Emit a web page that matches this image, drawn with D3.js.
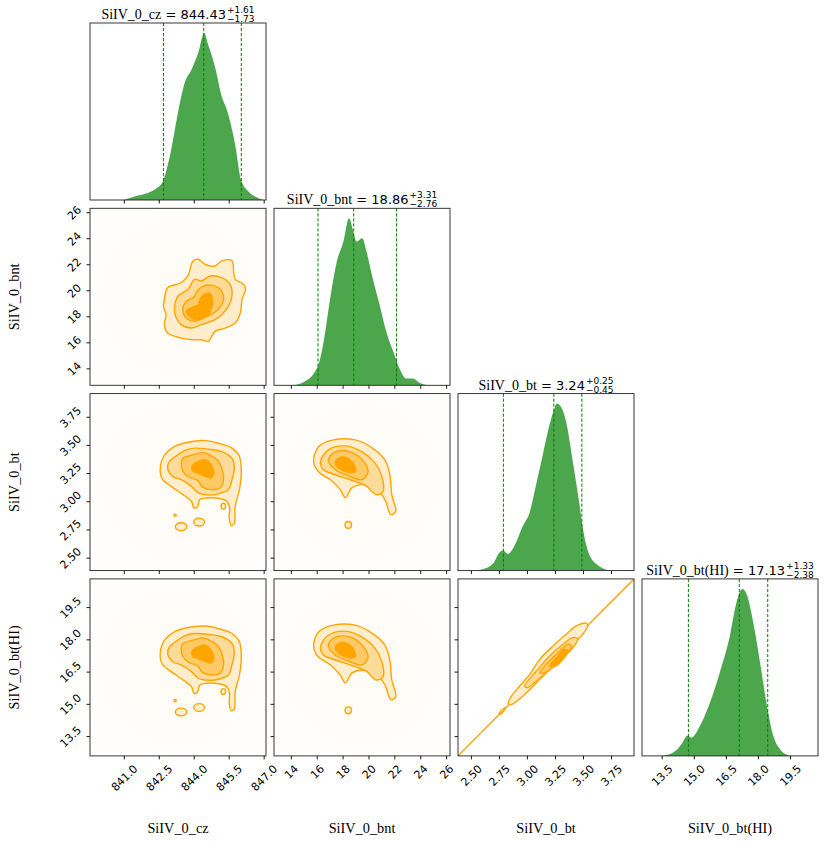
<!DOCTYPE html>
<html>
<head>
<meta charset="utf-8">
<script src="https://cdn.jsdelivr.net/npm/d3@7"></script>
<style>
  body { margin: 0; background: #fff; }
</style>
</head>
<body>
<svg id="chart" width="830" height="844"></svg>
<script>
'use strict';

// parameters and their summaries
const names = ["SiIV_0_cz", "SiIV_0_bnt", "SiIV_0_bt", "SiIV_0_bt(HI)"];
const medians = ["844.43", "18.86", "3.24", "17.13"];
const errPlus = ["+1.61", "+3.31", "+0.25", "+1.33"];
const errMinus = ["\u22121.73", "\u22122.76", "\u22120.45", "\u22122.38"];
const quantiles = [[842.70, 844.43, 846.04], [16.10, 18.86, 22.17], [2.79, 3.24, 3.49], [14.75, 17.13, 18.46]];
const domains = [[839.55, 847.1], [12.7, 26.3], [2.385, 3.955], [12.58, 20.81]];
const ticks = [[841.0, 842.5, 844.0, 845.5, 847.0], [14, 16, 18, 20, 22, 24, 26],
  [2.5, 2.75, 3.0, 3.25, 3.5, 3.75], [13.5, 15.0, 16.5, 18.0, 19.5]];
const tickFormats = [".1f", "d", ".2f", ".1f"];

// 1D marginal densities (peak = 1)
const czX = [841.0, 841.43, 842.0, 842.4, 842.67, 843.03, 843.32, 843.61, 843.90, 844.19, 844.45, 844.62, 844.91, 845.2, 845.42, 845.56, 845.78, 846.03, 846.36, 846.65, 847.0];
const czD = [0, 0.02, 0.04, 0.07, 0.11, 0.30, 0.52, 0.70, 0.78, 0.88, 1.0, 0.93, 0.80, 0.62, 0.54, 0.47, 0.33, 0.12, 0.05, 0.02, 0];
const bntX = [14.12, 15.0, 15.77, 16.2, 16.53, 17.04, 17.55, 18.06, 18.5, 18.83, 19.08, 19.51, 19.85, 20.36, 20.87, 21.38, 22.02, 22.4, 22.91, 23.42, 23.93, 24.7];
const bntD = [0, 0.02, 0.07, 0.14, 0.26, 0.52, 0.74, 0.86, 1.0, 0.92, 0.86, 0.88, 0.80, 0.63, 0.48, 0.32, 0.18, 0.10, 0.04, 0.04, 0.016, 0];
const btX = [2.506, 2.61, 2.70, 2.757, 2.787, 2.83, 2.89, 2.965, 3.025, 3.08, 3.14, 3.20, 3.245, 3.265, 3.305, 3.35, 3.41, 3.47, 3.505, 3.56, 3.65, 3.74];
const btD = [0, 0.01, 0.044, 0.11, 0.12, 0.10, 0.15, 0.27, 0.35, 0.51, 0.69, 0.87, 0.97, 1.0, 0.98, 0.89, 0.65, 0.39, 0.23, 0.09, 0.024, 0];
const hiX = [13.5, 14.04, 14.43, 14.7, 14.9, 15.29, 15.76, 16.22, 16.69, 17.0, 17.27, 17.47, 17.78, 18.1, 18.45, 18.72, 19.03, 19.5];
const hiD = [0, 0.02, 0.07, 0.12, 0.11, 0.18, 0.32, 0.50, 0.72, 0.92, 1.0, 0.97, 0.80, 0.56, 0.28, 0.12, 0.04, 0];

// 2D contours, outer (86%) to inner (12%), in data units
const czBnt1 = [[842.74,19.29],[842.88,20.20],[843.46,20.58],[843.75,21.10],[843.97,22.26],[844.19,22.39],[844.48,22.0],[844.91,21.87],[845.20,22.26],[845.64,22.26],[845.71,21.49],[845.78,20.84],[846.14,20.45],[846.22,20.07],[846.07,19.29],[846.0,18.26],[845.78,17.49],[845.35,17.10],[844.91,16.84],[844.62,16.07],[844.33,16.20],[843.97,16.20],[843.46,16.33],[842.88,16.71],[842.74,17.36],[842.81,18.13],[842.70,18.78]];
const czBnt2 = [[843.17,18.52],[843.32,19.55],[843.75,20.07],[844.04,20.84],[844.33,20.71],[844.70,21.10],[845.20,20.97],[845.56,20.45],[845.64,19.55],[845.49,18.78],[845.20,18.13],[844.91,17.74],[844.33,17.36],[843.90,17.10],[843.46,17.36],[843.25,17.87]];
const czBnt3 = [[843.55,18.80],[843.75,19.25],[844.0,19.45],[844.15,19.95],[844.40,20.30],[844.75,20.40],[845.05,20.20],[845.25,19.75],[845.28,19.20],[845.10,18.65],[844.85,18.25],[844.45,17.90],[844.05,17.62],[843.72,17.80],[843.55,18.25]];
const czBnt4 = [[843.68,18.39],[843.97,18.72],[844.19,18.91],[844.30,19.42],[844.48,19.73],[844.70,19.75],[844.80,19.29],[844.74,18.52],[844.55,18.0],[844.26,17.74],[843.90,17.87]];

const czBt1 = [[842.56,3.265],[842.71,3.397],[843.17,3.485],[843.75,3.524],[844.48,3.538],[845.06,3.515],[845.64,3.471],[845.96,3.397],[846.04,3.25],[845.96,3.103],[845.78,2.956],[845.74,2.803],[845.61,2.785],[845.52,2.853],[845.54,2.941],[845.42,3.0],[845.20,3.02],[844.91,3.029],[844.55,3.029],[844.26,3.015],[844.16,2.95],[844.01,2.941],[843.90,3.0],[843.54,3.059],[843.03,3.132],[842.67,3.191]];
const czBt2 = [[842.88,3.294],[842.96,3.353],[843.32,3.412],[843.61,3.45],[844.04,3.471],[844.62,3.462],[845.20,3.441],[845.64,3.382],[845.74,3.294],[845.64,3.191],[845.49,3.103],[845.20,3.074],[844.91,3.059],[844.48,3.059],[844.19,3.074],[843.90,3.132],[843.46,3.191],[843.10,3.221]];
const czBt3 = [[843.46,3.338],[843.54,3.382],[843.97,3.412],[844.41,3.432],[844.74,3.403],[845.03,3.362],[845.20,3.294],[845.28,3.191],[845.13,3.118],[844.77,3.103],[844.38,3.126],[844.16,3.185],[843.78,3.215],[843.54,3.265]];
const czBt4 = [[843.93,3.315],[844.16,3.35],[844.51,3.368],[844.72,3.332],[844.86,3.244],[844.74,3.209],[844.45,3.226],[844.16,3.25],[843.96,3.268]];
const czBtBlobs = [[845.27,2.956,0.10,0.026],[844.23,2.815,0.23,0.035],[843.46,2.774,0.25,0.035],[843.2,2.876,0.05,0.01]];

const czHi1 = [[842.56,17.19],[842.71,17.89],[843.17,18.35],[843.75,18.55],[844.48,18.62],[845.06,18.50],[845.64,18.27],[845.96,17.89],[846.04,17.11],[845.96,16.34],[845.78,15.57],[845.74,14.77],[845.61,14.68],[845.52,15.03],[845.54,15.49],[845.42,15.80],[845.20,15.91],[844.91,15.96],[844.55,15.96],[844.26,15.88],[844.16,15.54],[844.01,15.49],[843.90,15.80],[843.54,16.11],[843.03,16.50],[842.67,16.81]];
const czHi2 = [[842.88,17.35],[842.96,17.65],[843.32,17.96],[843.61,18.16],[844.04,18.27],[844.62,18.23],[845.20,18.12],[845.64,17.81],[845.74,17.35],[845.64,16.81],[845.49,16.34],[845.20,16.19],[844.91,16.11],[844.48,16.11],[844.19,16.19],[843.90,16.50],[843.46,16.81],[843.10,16.96]];
const czHi3 = [[843.46,17.58],[843.54,17.81],[843.97,17.96],[844.41,18.07],[844.74,17.92],[845.03,17.70],[845.20,17.35],[845.28,16.81],[845.13,16.42],[844.77,16.34],[844.38,16.46],[844.16,16.77],[843.78,16.93],[843.54,17.19]];
const czHi4 = [[843.93,17.46],[844.16,17.64],[844.51,17.73],[844.72,17.54],[844.86,17.08],[844.74,16.90],[844.45,16.99],[844.16,17.11],[843.96,17.21]];
const czHiBlobs = [[845.27,15.57,0.10,0.14],[844.23,14.83,0.23,0.18],[843.46,14.62,0.25,0.18],[843.2,15.15,0.05,0.05]];

const bntBt1 = [[15.76,3.35],[16.14,3.483],[17.29,3.544],[18.97,3.544],[20.27,3.474],[21.27,3.368],[21.65,3.235],[21.80,3.059],[22.11,2.909],[21.73,2.882],[21.27,3.015],[20.66,3.103],[19.74,3.147],[18.74,3.121],[18.21,3.032],[17.82,3.103],[17.06,3.191],[16.14,3.262]];
const bntBt2 = [[16.29,3.35],[16.9,3.456],[18.2,3.491],[19.51,3.438],[20.5,3.341],[21.04,3.218],[21.12,3.085],[20.58,3.059],[19.81,3.138],[18.59,3.191],[17.44,3.235],[16.52,3.279]];
const bntBt3 = [[16.9,3.368],[17.44,3.438],[18.59,3.438],[19.51,3.368],[19.97,3.262],[19.51,3.191],[18.44,3.226],[17.44,3.279]];
const bntBt4 = [[17.44,3.35],[17.98,3.394],[18.74,3.35],[18.97,3.262],[18.28,3.262],[17.67,3.297]];
const bntBtBlobs = [[18.44,2.79,0.25,0.03]];

const bntHi1 = [[15.76,17.64],[16.14,18.34],[17.29,18.66],[18.97,18.66],[20.27,18.29],[21.27,17.73],[21.65,17.04],[21.80,16.11],[22.11,15.33],[21.73,15.19],[21.27,15.88],[20.66,16.34],[19.74,16.57],[18.74,16.44],[18.21,15.97],[17.82,16.34],[17.06,16.81],[16.14,17.18]];
const bntHi2 = [[16.29,17.64],[16.9,18.19],[18.2,18.38],[19.51,18.10],[20.5,17.59],[21.04,16.95],[21.12,16.25],[20.58,16.11],[19.81,16.53],[18.59,16.81],[17.44,17.04],[16.52,17.27]];
const bntHi3 = [[16.9,17.73],[17.44,18.10],[18.59,18.10],[19.51,17.73],[19.97,17.18],[19.51,16.81],[18.44,16.99],[17.44,17.27]];
const bntHi4 = [[17.44,17.64],[17.98,17.87],[18.74,17.64],[18.97,17.18],[18.28,17.18],[17.67,17.36]];
const bntHiBlobs = [[18.44,14.70,0.25,0.16]];

const btHi1 = [[2.832,15.02],[2.862,15.36],[2.936,15.83],[3.025,16.37],[3.114,17.07],[3.232,17.69],[3.351,18.24],[3.44,18.63],[3.529,18.75],[3.543,18.63],[3.499,18.24],[3.41,17.77],[3.321,17.23],[3.218,16.68],[3.114,16.14],[2.996,15.52],[2.907,15.12],[2.862,14.97]];
const btHi2 = [[2.98,15.83],[3.085,16.53],[3.203,17.23],[3.321,17.77],[3.41,18.08],[3.454,18.0],[3.41,17.62],[3.321,17.15],[3.203,16.6],[3.085,16.06],[2.999,15.75]];
const btHi3 = [[3.114,16.45],[3.203,17.0],[3.292,17.46],[3.366,17.77],[3.396,17.69],[3.351,17.3],[3.262,16.84],[3.158,16.45]];
const btHi4 = [[3.203,16.76],[3.277,17.23],[3.336,17.54],[3.366,17.46],[3.321,17.07],[3.247,16.73]];
const btHiBlob = [[2.75,14.50],[2.785,14.62],[2.808,14.82],[2.773,14.70]];
const btHiLineX = [2.385, 3.955];
const btHiLineY = [12.58, 20.81];

const hists = [[czX, czD], [bntX, bntD], [btX, btD], [hiX, hiD]];
const pairs = {
  "1,0": {levels: [czBnt1, czBnt2, czBnt3, czBnt4], blobs: []},
  "2,0": {levels: [czBt1, czBt2, czBt3, czBt4], blobs: czBtBlobs},
  "2,1": {levels: [bntBt1, bntBt2, bntBt3, bntBt4], blobs: bntBtBlobs},
  "3,0": {levels: [czHi1, czHi2, czHi3, czHi4], blobs: czHiBlobs},
  "3,1": {levels: [bntHi1, bntHi2, bntHi3, bntHi4], blobs: bntHiBlobs},
  "3,2": {levels: [btHi1, btHi2, btHi3, btHi4], blobs: [], polys: [btHiBlob], line: [btHiLineX, btHiLineY]}
};

// layout
const colX = [90, 274, 458, 642];
const rowY = [23, 208.3, 393.6, 578.9];
const W = 176, H = 177;
const serif = "'Liberation Serif', 'DejaVu Serif', serif";
const sans = "'DejaVu Sans', sans-serif";
const levelFills = ["#ffedcc", "#ffdb99", "#ffc966", "#ffa500"];
const orange = "#ffa500";

const svg = d3.select("#chart");
const defs = svg.append("defs");

const xs = domains.map((d, i) => d3.scaleLinear().domain(d).range([colX[i], colX[i] + W]));
const ys = domains.map((d, i) => d3.scaleLinear().domain(d).range([rowY[i] + H, rowY[i]]));

// faint tint standing in for the sample scatter
const grad = defs.append("radialGradient").attr("id", "speck");
grad.append("stop").attr("offset", "0%").attr("stop-color", orange).attr("stop-opacity", 0.045);
grad.append("stop").attr("offset", "100%").attr("stop-color", orange).attr("stop-opacity", 0.012);

const contourLine = d3.line().curve(d3.curveCatmullRomClosed.alpha(0.5));

function labelBottom(g, fs) {
  g.selectAll(".tick text").each(function() {
    const t = d3.select(this);
    const w = this.getComputedTextLength();
    const half = (w + fs) * 0.7071 / 2;
    t.attr("x", 0).attr("y", 0).attr("dy", "0.35em").attr("text-anchor", "middle")
      .attr("transform", `translate(0,${7 + half}) rotate(-45)`);
  });
}
function labelLeft(g, fs) {
  g.selectAll(".tick text").each(function() {
    const t = d3.select(this);
    const w = this.getComputedTextLength();
    const half = (w + fs) * 0.7071 / 2;
    t.attr("x", 0).attr("y", 0).attr("dy", "0.35em").attr("text-anchor", "middle")
      .attr("transform", `translate(${-(7 + half)},0) rotate(-45)`);
  });
}

function drawAxes(r, c) {
  const fs = 11;
  const bottom = svg.append("g").attr("transform", `translate(0,${rowY[r] + H})`)
    .call(d3.axisBottom(xs[c]).tickValues(ticks[c]).tickSize(3.5).tickPadding(2)
      .tickFormat(r === 3 ? d3.format(tickFormats[c]) : ""));
  bottom.select(".domain").remove();
  bottom.selectAll(".tick line").attr("stroke", "#000").attr("stroke-width", 0.9);
  bottom.selectAll(".tick text").attr("font-family", sans).attr("font-size", fs).attr("fill", "#000");
  if (r === 3) labelBottom(bottom, fs);

  if (r !== c) {
    const left = svg.append("g").attr("transform", `translate(${colX[c]},0)`)
      .call(d3.axisLeft(ys[r]).tickValues(ticks[r]).tickSize(3.5).tickPadding(2)
        .tickFormat(c === 0 ? d3.format(tickFormats[r]) : ""));
    left.select(".domain").remove();
    left.selectAll(".tick line").attr("stroke", "#000").attr("stroke-width", 0.9);
    left.selectAll(".tick text").attr("font-family", sans).attr("font-size", fs).attr("fill", "#000");
    if (c === 0) labelLeft(left, fs);
  }
}

function drawHist(i) {
  const [hx, hd] = hists[i];
  const y = d3.scaleLinear().domain([0, 1.06]).range([rowY[i] + H, rowY[i]]);
  const pts = hx.map((v, k) => [v, hd[k]]);
  const area = d3.area().curve(d3.curveMonotoneX)
    .x(d => xs[i](d[0])).y0(y(0)).y1(d => y(d[1]));
  svg.append("path").datum(pts).attr("d", area)
    .attr("fill", "#008000").attr("fill-opacity", 0.7).attr("clip-path", `url(#clip${i}${i})`);
  svg.selectAll(null).data(quantiles[i]).join("line")
    .attr("x1", d => xs[i](d)).attr("x2", d => xs[i](d))
    .attr("y1", rowY[i]).attr("y2", rowY[i] + H)
    .attr("stroke", "#008000").attr("stroke-width", 1).attr("stroke-dasharray", "3.2,1.8");

  // title: name = median with stacked errors
  const cx = colX[i] + W / 2, top = rowY[i];
  const g = svg.append("g");
  const main = g.append("text").attr("y", top - 4).attr("fill", "#000");
  main.append("tspan").attr("font-family", serif).attr("font-size", 14).text(names[i]);
  main.append("tspan").attr("font-family", sans).attr("font-size", 13).text(" = " + medians[i]);
  const mw = main.node().getComputedTextLength();
  const sup = g.append("text").attr("y", top - 10).attr("font-family", sans).attr("font-size", 9).text(errPlus[i]);
  const sub = g.append("text").attr("y", top - 1).attr("font-family", sans).attr("font-size", 9).text(errMinus[i]);
  const sw = Math.max(sup.node().getComputedTextLength(), sub.node().getComputedTextLength());
  const x0 = cx - (mw + 1 + sw) / 2;
  main.attr("x", x0);
  sup.attr("x", x0 + mw + 1);
  sub.attr("x", x0 + mw + 1);
}

function drawPair(r, c) {
  const p = pairs[`${r},${c}`];
  const x = xs[c], y = ys[r];
  const g = svg.append("g").attr("clip-path", `url(#clip${r}${c})`);
  if (!p.line) {
    g.append("rect").attr("x", colX[c]).attr("y", rowY[r]).attr("width", W).attr("height", H)
      .attr("fill", "url(#speck)");
  }
  const proj = ring => ring.map(d => [x(d[0]), y(d[1])]);
  if (p.line) {
    g.append("line")
      .attr("x1", x(p.line[0][0])).attr("y1", y(p.line[1][0]))
      .attr("x2", x(p.line[0][1])).attr("y2", y(p.line[1][1]))
      .attr("stroke", orange).attr("stroke-width", 1.4);
  }
  p.blobs.forEach(b => {
    g.append("ellipse").attr("cx", x(b[0])).attr("cy", y(b[1]))
      .attr("rx", Math.abs(x(b[0] + b[2]) - x(b[0]))).attr("ry", Math.abs(y(b[1] + b[3]) - y(b[1])))
      .attr("fill", levelFills[0]).attr("stroke", orange).attr("stroke-width", 1.4);
  });
  (p.polys || []).forEach(ring => {
    g.append("path").attr("d", contourLine(proj(ring)))
      .attr("fill", levelFills[0]).attr("stroke", orange).attr("stroke-width", 1.4);
  });
  p.levels.forEach((ring, k) => {
    g.append("path").attr("d", contourLine(proj(ring)))
      .attr("fill", levelFills[k]).attr("stroke", orange).attr("stroke-width", 1.4);
  });
}

for (let r = 0; r < 4; r++) {
  for (let c = 0; c <= r; c++) {
    defs.append("clipPath").attr("id", `clip${r}${c}`).append("rect")
      .attr("x", colX[c]).attr("y", rowY[r]).attr("width", W).attr("height", H);
    if (r === c) drawHist(r); else drawPair(r, c);
    svg.append("rect").attr("x", colX[c]).attr("y", rowY[r]).attr("width", W).attr("height", H)
      .attr("fill", "none").attr("stroke", "#222").attr("stroke-width", 0.9);
    drawAxes(r, c);
  }
}

// axis names
svg.selectAll(null).data(names).join("text")
  .attr("x", (d, i) => colX[i] + W / 2).attr("y", 833)
  .attr("text-anchor", "middle").attr("font-family", serif).attr("font-size", 14.3)
  .text(d => d);
svg.selectAll(null).data(names.slice(1)).join("text")
  .attr("transform", (d, i) => `translate(19,${rowY[i + 1] + H / 2}) rotate(-90)`)
  .attr("text-anchor", "middle").attr("font-family", serif).attr("font-size", 14.3)
  .text(d => d);
</script>
</body>
</html>
